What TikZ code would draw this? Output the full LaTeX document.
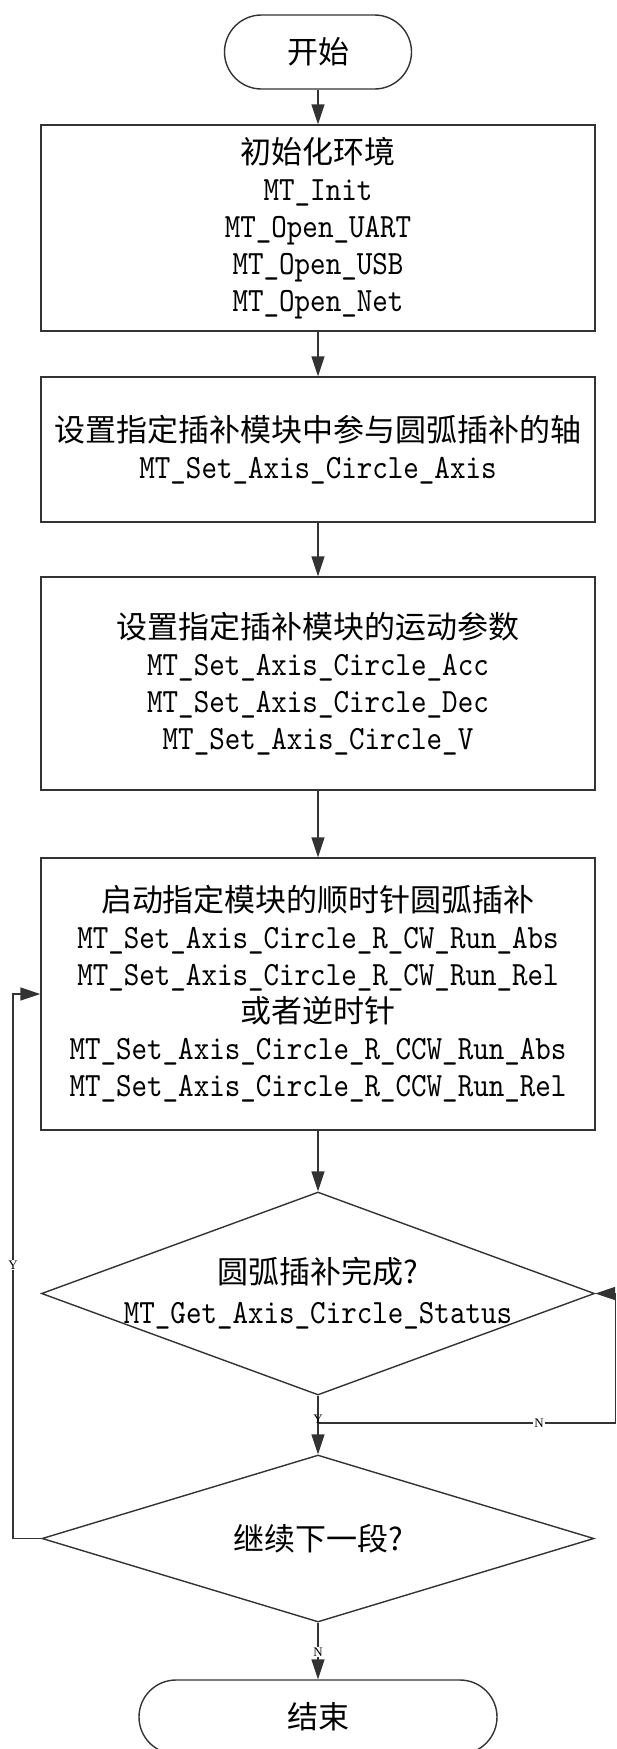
\documentclass[tikz,border=0pt]{standalone}
\usepackage{fontspec}
\setmainfont{Liberation Serif}
\newfontfamily\cjkface{Noto Sans CJK SC}
\newfontfamily\monoface{lmmono10-regular}[Extension=.otf, FakeStretch=0.87]
\usetikzlibrary{shapes.geometric,arrows.meta}
\newcommand\cn[1]{{\cjkface #1}}
\newcommand\api[1]{{\monoface\fontsize{34}{37}\selectfont #1}}

\begin{document}
\begin{tikzpicture}[x=1pt,y=-1pt,
  flow/.style={draw=black!80, line width=1.4pt},
  arr/.style={flow, -{Triangle[length=20pt,width=13pt]}},
  txt/.style={font=\fontsize{31}{37}\selectfont, align=center, inner sep=0pt},
  stepbox/.style={flow, rectangle, minimum width=554pt, txt},
  term/.style={flow, rectangle, rounded corners=37pt, minimum height=74pt, txt},
  decision/.style={flow, diamond, inner sep=0pt},
  tag/.style={fill=white, inner sep=1pt, font=\fontsize{13}{13}\selectfont}
]
\fill[white] (0,0) rectangle (617,1749);
\useasboundingbox (0,0) rectangle (617,1749);

% process steps
\node[term, minimum width=187pt] (start) at (318,52) {\cn{开始}};
\node[stepbox, minimum height=206pt] (b1) at (318,228)
  {\cn{初始化环境}\\\api{MT\_Init}\\\api{MT\_Open\_UART}\\\api{MT\_Open\_USB}\\\api{MT\_Open\_Net}};
\node[stepbox, minimum height=145pt] (b2) at (318,449.5)
  {\cn{设置指定插补模块中参与圆弧插补的轴}\\\api{MT\_Set\_Axis\_Circle\_Axis}};
\node[stepbox, minimum height=213pt] (b3) at (318,683.5)
  {\cn{设置指定插补模块的运动参数}\\\api{MT\_Set\_Axis\_Circle\_Acc}\\\api{MT\_Set\_Axis\_Circle\_Dec}\\\api{MT\_Set\_Axis\_Circle\_V}};
\node[stepbox, minimum height=272pt] (b4) at (318,994)
  {\cn{启动指定模块的顺时针圆弧插补}\\\api{MT\_Set\_Axis\_Circle\_R\_CW\_Run\_Abs}\\\api{MT\_Set\_Axis\_Circle\_R\_CW\_Run\_Rel}\\\cn{或者逆时针}\\\api{MT\_Set\_Axis\_Circle\_R\_CCW\_Run\_Abs}\\\api{MT\_Set\_Axis\_Circle\_R\_CCW\_Run\_Rel}};

% decisions
\node[decision, minimum width=553pt, minimum height=203pt] (d1) at (318,1293.5) {};
\node[txt] (d1t) at (d1.center)
  {\cn{圆弧插补完成?}\\[3pt]\api{MT\_Get\_Axis\_Circle\_Status}};
\node[decision, minimum width=552pt, minimum height=167pt] (d2) at (318,1538.5) {};
\node[txt] (d2t) at (d2.center) {\cn{继续下一段?}};

\node[term, minimum width=358pt] (endn) at (318,1717) {\cn{结束}};

% connectors
\draw[arr] (start) -- (b1);
\draw[arr] (b1) -- (b2);
\draw[arr] (b2) -- (b3);
\draw[arr] (b3) -- (b4);
\draw[arr] (b4) -- (d1);
\coordinate (j) at (318,1423);
\coordinate (rc) at (615.5,1423);
\coordinate (lc) at (13,1538.5);
\draw[arr] (d1) -- (d2);
\draw[arr] (j) -- (rc) |- (d1.east);
\draw[arr] (d2.west) -- (lc) |- (b4.west);
\draw[arr] (d2) -- (endn);

% branch labels
\node[inner sep=0pt, font=\fontsize{13}{13}\selectfont] (yin) at (318,1419) {Y};
\node[tag] (nin) at (539,1423) {N};
\node[tag] (yout) at (13,1265) {Y};
\node[tag] (nout) at (318,1652) {N};
\end{tikzpicture}
\end{document}
